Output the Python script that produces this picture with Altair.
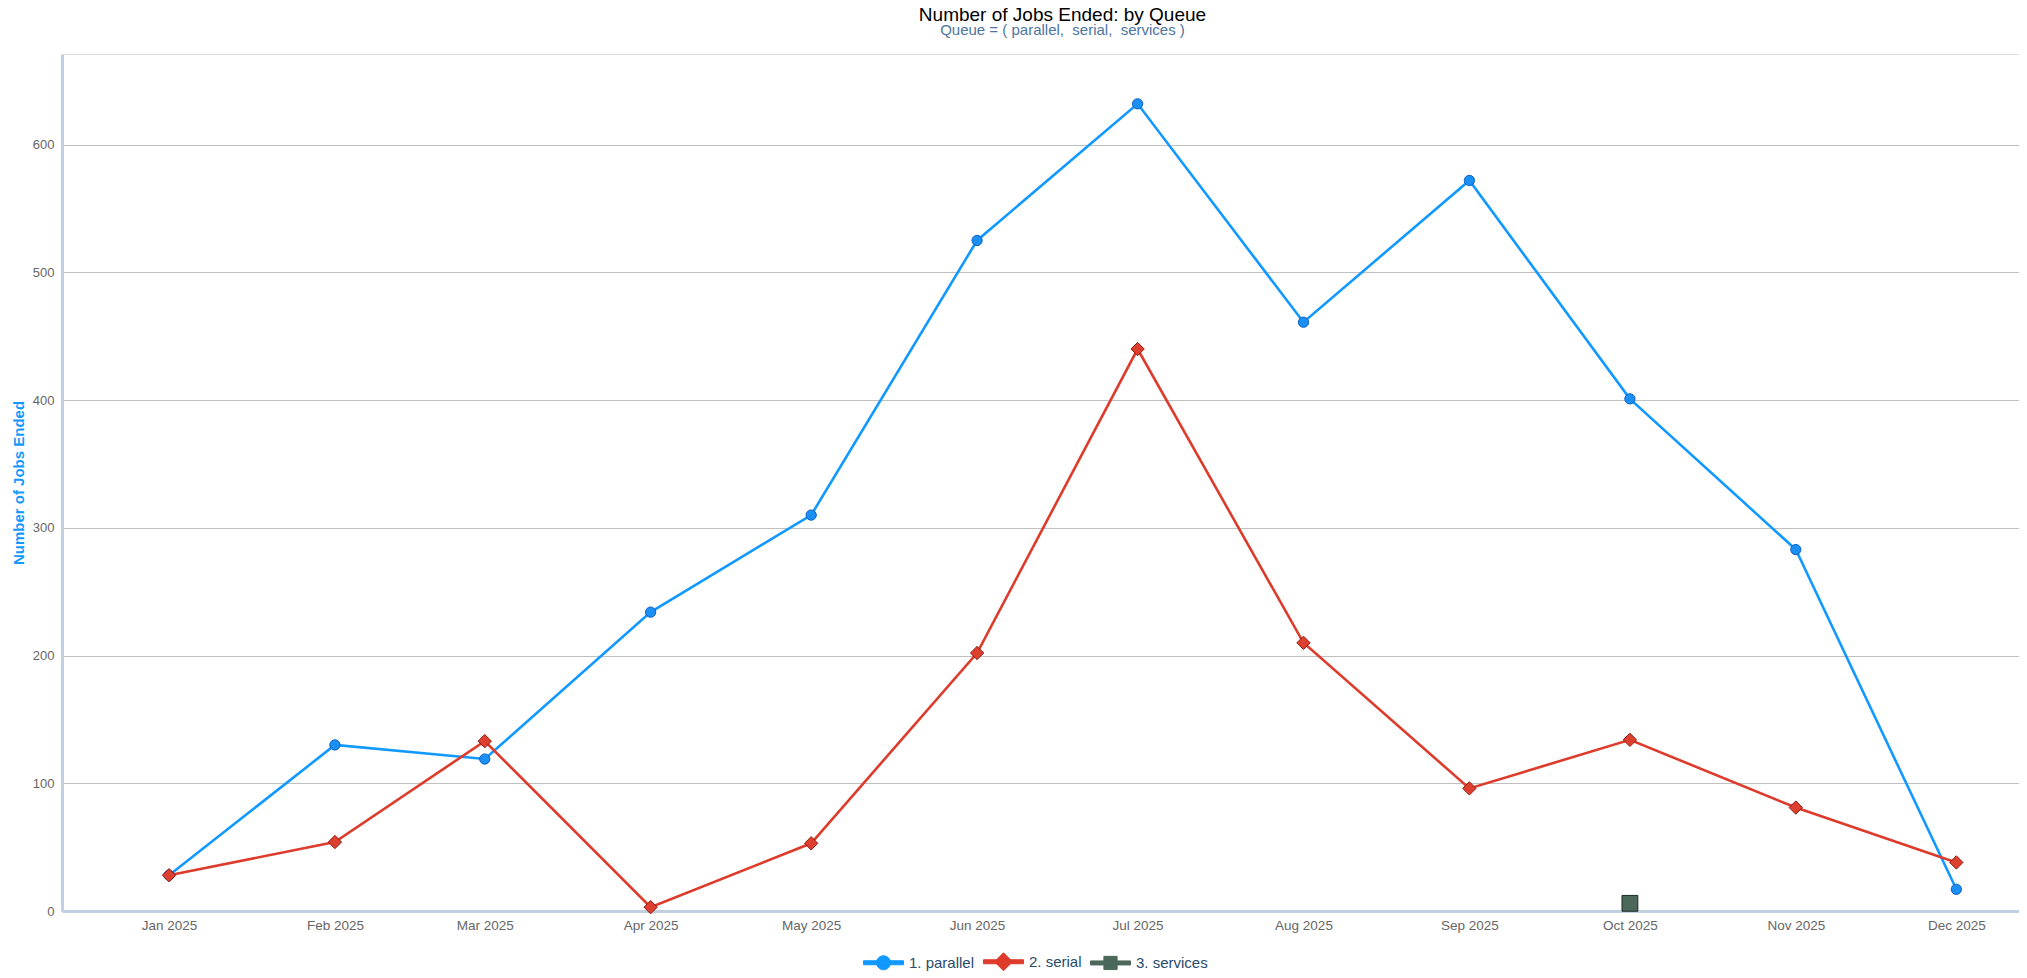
import json
import altair as alt
import pandas as pd

# ---------------- data ----------------
months = ["2025-01-01", "2025-02-01", "2025-03-01", "2025-04-01", "2025-05-01", "2025-06-01",
          "2025-07-01", "2025-08-01", "2025-09-01", "2025-10-01", "2025-11-01", "2025-12-01"]
month_labels = ["Jan 2025", "Feb 2025", "Mar 2025", "Apr 2025", "May 2025", "Jun 2025",
                "Jul 2025", "Aug 2025", "Sep 2025", "Oct 2025", "Nov 2025", "Dec 2025"]
series_names = ["1. parallel", "2. serial", "3. services"]
parallel = [28, 130, 119, 234, 310, 525, 632, 461, 572, 401, 283, 17]
serial = [28, 54, 133, 3, 53, 202, 440, 210, 96, 134, 81, 38]
services_months = ["2025-10-01"]
services = [6]
y_ticks = [0, 100, 200, 300, 400, 500, 600]

# ---------------- styles ----------------
line_colors = ["#1199ff", "#dd3b2b", "#4b685b"]
marker_fills = ["#1a90f5", "#de4030", "#4b685b"]
marker_strokes = ["#0c5fc0", "#8e1a10", "#1b2b23"]
marker_shapes = ["circle", "diamond", "square"]
marker_sizes = [105, 250, 125]
legend_paths = [
    "M-1,-0.1H1V0.1H-1Z M0.35,0A0.35,0.35,0,1,1,-0.35,0A0.35,0.35,0,1,1,0.35,0Z",
    "M-1,-0.1H1V0.1H-1Z M0,-0.45L0.45,0L0,0.45L-0.45,0Z",
    "M-1,-0.1H1V0.1H-1Z M-0.33,-0.33H0.33V0.33H-0.33Z",
]

rows = []
for m, v in zip(months, parallel):
    rows.append({"date": m, "value": v, "queue": series_names[0]})
for m, v in zip(months, serial):
    rows.append({"date": m, "value": v, "queue": series_names[1]})
for m, v in zip(services_months, services):
    rows.append({"date": m, "value": v, "queue": series_names[2]})
df = pd.DataFrame(rows)

FONT = "Liberation Sans"

x_enc = alt.X(
    "date:T",
    scale=alt.Scale(
        type="utc",
        domain=[alt.DateTime(year=2024, month=12, date=12, utc=True),
                alt.DateTime(year=2025, month=12, date=12, hours=17, utc=True)],
        nice=False,
    ),
    axis=alt.Axis(
        values=[alt.DateTime(year=2025, month=i + 1, date=1, utc=True) for i in range(12)],
        labelExpr=f"{json.dumps(month_labels)}[utcmonth(datum.value)]",
        title=None,
        grid=False,
        ticks=False,
        domainColor="#c0d0e0",
        domainWidth=3,
        labelColor="#666666",
        labelFont=FONT,
        labelFontSize=13.5,
        labelPadding=7,
        labelFlush=False,
        labelOverlap=False,
    ),
)

y_enc = alt.Y(
    "value:Q",
    scale=alt.Scale(domain=[0, 671], nice=False, zero=True),
    axis=alt.Axis(
        values=y_ticks,
        title="Number of Jobs Ended",
        titleColor="#1199ff",
        titleFont=FONT,
        titleFontSize=15,
        titleFontWeight="bold",
        titleAngle=270,
        titleAlign="center",
        titleBaseline="alphabetic",
        titleX=-39,
        titleY=428.5,
        grid=True,
        gridColor="#c0c0c0",
        gridWidth=1,
        ticks=False,
        domainColor="#c0d0e0",
        domainWidth=3,
        labelColor="#666666",
        labelFont=FONT,
        labelFontSize=13,
        labelPadding=8,
        labelFlush=False,
    ),
)

lines = alt.Chart(df).mark_line(strokeWidth=2.6).encode(
    x=x_enc,
    y=y_enc,
    color=alt.Color("queue:N", scale=alt.Scale(domain=series_names, range=line_colors), legend=None),
    order=alt.Order("date:T"),
)

points = alt.Chart(df).mark_point(filled=True, opacity=1, strokeWidth=1).encode(
    x=x_enc,
    y=y_enc,
    fill=alt.Fill("queue:N", scale=alt.Scale(domain=series_names, range=marker_fills), legend=None),
    shape=alt.Shape("queue:N", scale=alt.Scale(domain=series_names, range=marker_shapes), legend=None),
    stroke=alt.Stroke("queue:N", scale=alt.Scale(domain=series_names, range=marker_strokes), legend=None),
    size=alt.Size("queue:O", scale=alt.Scale(domain=series_names, range=marker_sizes), legend=None),
)

legend_cfg = alt.Legend(
    title=None,
    orient="none",
    legendX=801,
    legendY=887,
    direction="horizontal",
    symbolSize=1600,
    symbolStrokeWidth=1,
    symbolOpacity=1,
    labelOffset=5,
    columnPadding=6,
    labelFont=FONT,
    labelFontSize=15,
    labelColor="#274b6d",
)

legend_layer = alt.Chart(df).mark_point(filled=True, opacity=0).encode(
    x=x_enc,
    y=y_enc,
    fill=alt.Fill("queue:N", scale=alt.Scale(domain=series_names, range=line_colors), legend=legend_cfg),
    shape=alt.Shape("queue:N", scale=alt.Scale(domain=series_names, range=legend_paths), legend=legend_cfg),
    stroke=alt.Stroke("queue:N", scale=alt.Scale(domain=series_names, range=line_colors), legend=legend_cfg),
)

chart = (
    alt.layer(lines, points, legend_layer)
    .resolve_scale(color="independent", stroke="independent", fill="independent", shape="independent")
    .properties(
        width=1957,
        height=857,
        autosize=alt.AutoSizeParams(type="none"),
        padding={"left": 54, "top": 46, "right": 0, "bottom": 60},
        background="white",
        title=alt.TitleParams(
            text="Number of Jobs Ended: by Queue",
            subtitle="Queue = ( parallel,\u00a0 serial,\u00a0 services )",
            font=FONT,
            fontSize=19,
            fontWeight="normal",
            color="black",
            subtitleFont=FONT,
            subtitleFontSize=15,
            subtitleColor="#4d759e",
            anchor="middle",
            dx=22,
            offset=16,
            subtitlePadding=-2,
        ),
    )
    .configure_view(stroke=None)
    .configure(font=FONT)
)

chart.save("out.html", embed_options={"renderer": "svg", "actions": False})
